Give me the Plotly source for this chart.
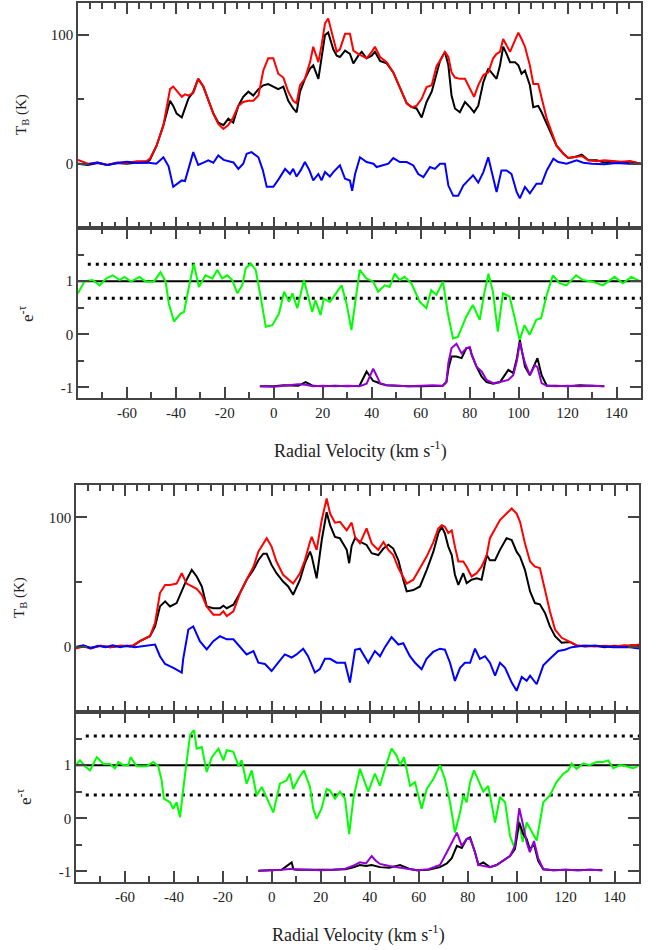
import plotly.graph_objects as go

# ---------------- TOP PANEL ----------------
TOP_V_TB = [-80,-76,-72,-68,-64,-60,-56,-52,-50.6,-47.9,
            -45.1,-42.4,-41.1,-39.7,-37.6,-36.3,-34.9,-32.9,-30.9,-28.8,
            -26.8,-24.7,-22.7,-20.6,-18.6,-16.6,-14.5,-12.5,-10.4,-8.4,
            -6.3,-4.3,-2.3,-0.2,1.8,3.9,5.9,7.9,9.3,10.7,
            12.7,14.8,16.1,18.2,19.5,20.9,22.2,24.3,25.7,27.0,
            29.1,31.1,32.5,34.5,35.9,37.9,40.0,41.3,43.4,46.1,
            48.8,50.8,52.9,54.3,56.3,58.3,60.4,62.4,64.5,66.5,
            67.9,69.9,71.3,72.6,74.0,76.0,78.1,80.1,81.8,83.5,
            85.6,87.6,89.6,91.0,92.4,93.7,95.1,96.5,98.5,99.9,
            101.2,102.6,104.6,106.0,108.0,109.4,111.5,113.5,115.5,118.3,
            120.3,123.0,125.8,128.5,131.9,135,138.7,142,145.5,150]
TOP_TB_BLACK = [0,-1,0.5,-1,0.5,0,1,1,3,14,
                30,49,45,39,36,43,50.5,56,66,60,
                50,39,32,30,35,32,45,52,56,53,
                58,61,62,60,58,60,49,43,40,56,
                66,74,76.5,66,82,100,102,89,84,83,
                88,85.5,78,84,87,82,84,87,80,78,
                71,62,54,47,44,43,36,48,56,69,
                80,87,76.5,53,43,40,48,44,40,45,
                63.5,74,69,66,76.5,91,85.5,79,79,76.5,
                70,72.5,61,44,45,40,31,22,14,7.8,
                4.4,5.2,7,2.6,2.6,1,1.8,0.5,1.8,0]
TOP_TB_RED = [3,0,1,-1,1,0.5,2,2,4,14,
              30,58,60,57,52,54,53,55,66,60,
              50,39,31,27,30,36,45,48,49,49,
              53,72.5,82,82,70,67,56,49,47,61,
              66,79,91,79,92,109,113,97,87,89,
              101,101,88,85.5,84,82,87,91,83,79,
              71,62,54,47,44,45,50.5,59.6,61,76,
              80,87,83,71,67,66,66,58,52,61,
              69,71,82,85.5,87,97,92,87,96,102,
              97,91,76.5,62,62,50.5,35,24.6,14,7.8,
              4.4,5.2,6,2.6,2,2.6,1.8,1.5,2.2,0]

TOP_V_BLUE = [-80,-76,-72,-68,-64,-60,-56,-52,-48,-45.1,
              -43,-41.1,-37.6,-36.3,-32.9,-30.9,-28.5,-26.8,-24.7,-22.7,
              -20.5,-18.6,-16.5,-14.5,-12.5,-11.1,-9.1,-6.3,-4.5,-2.9,
              -0.2,2,4.6,6.6,7.9,9.3,11,12.7,14.5,16.1,
              18.2,19.5,20.9,22.9,24.3,27.0,29.1,31.1,32.0,33.2,
              35.2,37.9,40.7,42.0,44.8,46.8,48.8,51.5,54.3,57.0,
              59.0,61.1,63.8,65.8,67.9,69.9,71.3,73.3,75.3,77.4,
              79.4,81.4,83.5,85.6,87.6,89.6,91.0,93.0,95.1,97.1,
              99.2,100.5,102.6,104.6,107.3,109.4,111.5,114.2,116.2,119.6,
              123.7,126.4,130,135,140,145,150]
TOP_TB_BLUE = [0,-0.5,1,-1,0.5,1.5,0.5,1,0,5,
               -2,-18,-13,-13.5,9,-1,1,2.6,0.8,6.5,
               3,2,1,-4,0,7.8,9,5,-5,-18,
               -18,-12,-4,-8,-4,-10,-5,1.3,-5,-13,
               -8,-13,-6.5,-10,-6.5,-1.3,-11.7,-13,-21,-8,
               5,1.3,0,-2.6,-1.3,0,4.4,1.3,1.3,-1.3,
               -8,-10.4,-2.6,-4,0,0,-17,-25,-25,-17,
               -13,-9,-14.7,-6.5,5,-11.7,-22,-5.2,-5.2,-8,
               -22,-27,-18,-23,-15.6,-15.6,-5.2,3.9,1.3,0,
               2.6,0.8,0,-0.5,0.5,0,0]

TOP_V_G = [-80,-77.3,-74,-71.2,-68.5,-65.8,-63.0,-61.0,-58.3,-54.9,
           -52.2,-49.0,-46.3,-44.2,-42.9,-40.8,-38.1,-36.7,-34.7,-32.7,
           -30.6,-27.9,-25.1,-23.1,-21.1,-19.0,-17.0,-14.9,-12.9,-11.5,
           -9.4,-7.4,-5.4,-3.3,-0.6,2.1,4.2,6.2,7.6,9.6,
           12.3,15.7,17.0,19.1,20.4,22.9,27.7,29.7,31.7,35.1,
           37.8,40.6,42.6,45.3,47.3,49.4,51.4,53.4,56.2,59.6,
           62.3,64.3,66.4,69.1,71.1,73.2,75.2,78.6,81.3,84.1,
           86.1,87.7,89.5,91.5,93.6,96.3,98.3,100.4,102.4,104.5,
           107.2,109.2,111.3,114.0,116.7,119.5,123.5,126.2,130.3,134.4,
           139.2,142.6,146.0,150]
TOP_ETAU = [0.77,1.0,1.02,0.92,1.05,1.11,1.02,1.08,0.99,1.08,
            0.99,0.99,1.17,0.99,0.58,0.24,0.39,0.42,0.89,1.33,
            0.89,1.11,1.05,1.21,1.05,1.11,1.02,0.77,0.92,1.24,
            1.33,1.21,0.71,0.14,0.17,0.39,0.8,0.61,0.77,0.49,
            1.02,0.42,0.64,0.36,0.67,0.61,0.92,0.58,0.08,1.21,
            1.05,0.99,0.8,0.92,0.89,1.14,1.02,1.08,0.96,0.61,
            0.49,0.83,0.74,0.99,0.39,-0.08,-0.05,0.33,0.55,0.27,
            0.8,1.14,0.8,0.05,0.77,0.71,0.33,-0.11,0.17,-0.01,
            0.27,0.3,0.71,1.11,0.96,0.92,1.11,1.02,0.99,0.92,
            1.08,0.96,1.08,0.99]
TOP_SIGMA = [1.32, 0.68]

TOP_V_P = [-5.7,0,4,8,10,13,16,20,25,30,
           35,37.9,40.6,42,43.4,46,50,55,60,65,
           69,70.5,71.3,72.6,74.6,76.7,78.7,80.1,80.8,82.8,
           84.9,86.9,89.6,92.4,95.8,97.8,99.3,100.5,101.5,102.6,
           104.6,106.7,107.7,109.4,111.5,115,120,125,130,135]
TOP_LOW_PURPLE = [-0.98,-0.99,-0.97,-0.95,-0.94,-0.95,-0.98,-0.97,-0.98,-0.97,
                  -0.98,-0.93,-0.65,-0.78,-0.92,-0.96,-0.97,-0.98,-0.97,-0.96,
                  -0.97,-0.9,-0.54,-0.26,-0.18,-0.36,-0.26,-0.24,-0.38,-0.61,
                  -0.7,-0.86,-0.92,-0.9,-0.86,-0.77,-0.5,-0.15,-0.35,-0.54,
                  -0.77,-0.58,-0.62,-0.92,-0.97,-0.98,-0.97,-0.98,-0.97,-0.98]
TOP_LOW_BLACK = [-0.98,-0.98,-0.96,-0.97,-0.97,-0.9,-0.97,-0.98,-0.97,-0.98,
                 -0.97,-0.70,-0.88,-0.9,-0.93,-0.96,-0.97,-0.98,-0.98,-0.97,
                 -0.97,-0.9,-0.65,-0.42,-0.42,-0.45,-0.26,-0.26,-0.38,-0.61,
                 -0.8,-0.9,-0.93,-0.9,-0.67,-0.73,-0.45,-0.11,-0.35,-0.61,
                 -0.77,-0.55,-0.45,-0.77,-0.97,-0.97,-0.98,-0.96,-0.97,-0.98]

# ---------------- BOTTOM PANEL ----------------
BOT_V_TB = [-80,-77,-74,-70,-66,-62,-58,-56.6,-53.9,-49.8,
            -47.7,-45.7,-43.6,-41.6,-38.9,-36.8,-34.8,-32.7,-30.7,-28.6,
            -26.6,-23.9,-21.2,-19.8,-18.4,-15.7,-13.0,-10.3,-7.5,-5.5,
            -3.5,-2.1,-0.1,1.9,4.6,6.7,8.7,11.5,13.5,15.6,
            16.3,18.3,20.4,22.4,23.8,25.8,27.8,30.6,31.6,32.6,
            34.0,36.0,38.7,40.8,43.5,45.6,47.6,49.6,51.7,53.7,
            55.1,57.8,60.5,63.3,66.0,68.0,69.4,70.7,72.1,73.5,
            74.8,76.2,78.2,79.6,81.6,83.7,85.7,87.8,89.1,91.2,
            93.2,95.9,98.0,100.0,101.4,103.4,105.5,107.5,109.5,111.6,
            113.6,115.7,118.4,121.8,124.5,128,132,136,140,144,
            147,150]
BOT_TB_BLACK = [0,1,-0.5,1,0,1,0.5,1,4.6,8.4,
                16,31.4,35.3,31.4,34,44,52,59.6,54.5,46.8,
                31.4,30,30,32,30,32.7,41.7,52,59.6,67,
                72,72,63.4,57,50.6,46.8,40.4,52,64.7,73.6,
                70,53,82.6,104,94,85,84,75,64.7,78,
                84,81.3,78.8,72.4,71,76,79,76,67,52,
                43,44,46.8,59.6,73.6,87.7,92.8,87.7,77.5,71,
                55.8,48,57,49.4,52,53,52,71,67,67,
                75,84,82.6,73.6,69.8,59.6,43,34,33,26.4,
                16,8.4,3.4,4,1.3,0.5,1,0,1,0.5,
                1.5,1]
BOT_TB_RED = [-1,0.5,-1,1,0,1,1,1.5,4.6,8.4,
              18.7,41.7,48,48,49,57,49,46.8,45,40.4,
              31.4,25,25,27.6,24,27.6,41.7,52,62,73.6,
              80,84,77.5,66,55.8,52,49,57,67,81.3,
              85,75,98,114.6,103,96,96.6,90,92.8,96,
              85,80,91.5,80,75,81,75,71,61,54.5,
              49,52,61,70,81,91.5,94,92.8,88,90,
              77.5,66,66,62,54.5,57,62,71,84,91.5,
              98,103,106.9,103,96.6,80,66,62,61,44,
              27.6,13.6,7.2,4,1.3,1,0.5,1,0.5,1.5,
              1,2]

BOT_V_BLUE = [-80,-77,-74,-71,-68,-65,-62,-59,-56,-52,
              -47.7,-45.7,-43.6,-40.2,-36.8,-36.2,-34.1,-32.1,-29.4,-26.6,
              -23.9,-21.2,-18.4,-15.7,-13.0,-10.3,-7.5,-5.5,-2.8,-0.1,
              2.6,5.3,8.1,10.1,12.8,14.8,17.6,19.6,21.7,23.8,
              26.5,29.9,31.9,34.0,36.0,39.4,42.1,44.2,46.2,48.9,
              51.7,53.7,56.4,58.5,61.2,63.2,65.9,68.7,70.7,72.8,
              74.8,76.9,78.9,81.0,83.0,85.0,87.1,89.1,91.2,93.2,
              95.3,98.0,100.0,102.1,104.1,105.5,108.2,110.9,113.6,117.0,
              119.7,122.5,127.2,132.6,139.5,146.3,150]
BOT_TB_BLUE = [0,1.5,-1,1,0,1.5,0,1,0,1,
               2,-7,-13,-16,-19.6,-9,13.6,16,4.6,-1.8,
               4.6,8.4,6,6,0,-5.6,-3,-12,-13,-18.4,
               -12,-5.6,-8,-5.6,-1.2,-7,-19.6,-17,-9,-9,
               -12,-12,-27.3,-2,-1.2,-12,-3,-7,0,7.7,
               2,3,-7,-12,-17,-9,-3.7,-1.2,-2,-12,
               -26,-16,-12,-12,-1.2,-9,-7,-12,-22,-12,
               -16,-27.3,-33.7,-23,-26,-22,-28.6,-14,-9,-3,
               -2,0,1,1,0,0,-1]

BOT_V_G = [-80,-78.4,-76.3,-74.3,-71.5,-68.8,-66.1,-64.1,-62.7,-60.7,
           -58.6,-57.7,-55.2,-51.1,-48.4,-46.4,-45.0,-44.1,-41.6,-40.3,
           -38.9,-37.5,-35.5,-33.4,-31.8,-30.7,-28.6,-26.6,-24.5,-21.8,
           -19.8,-18.4,-15.7,-13.6,-12.3,-10.3,-8.2,-6.2,-4.1,-1.4,
           0.6,3.3,6.0,7.4,8.7,10.8,13.1,15.6,16.9,18.3,
           20.3,22.4,23.8,25.8,27.8,29.9,31.6,33.3,36.0,39.4,
           42.1,44.2,46.2,48.9,51.0,52.4,54.0,56.5,58.5,61.2,
           63.3,66.0,68.7,70.7,72.8,74.8,76.9,78.2,79.6,81.0,
           82.6,84.4,86.4,88.4,91.2,93.2,95.3,97.3,99.3,100.7,
           102.5,104.1,106.2,108.2,110.9,113.6,116.3,119.1,121.1,122.5,
           124.5,127.2,129.9,132.6,135.4,137.4,139.5,142.2,144.9,147.6,
           149.7]
BOT_ETAU = [1.0,1.09,0.98,0.9,1.15,1.02,1.02,0.94,1.06,1.0,
            1.0,1.15,0.98,0.98,1.06,0.98,0.71,0.37,0.3,0.18,
            0.3,0.02,0.81,1.57,1.66,1.31,1.34,0.87,1.15,1.31,
            1.09,1.28,1.25,0.98,1.09,0.65,0.9,0.43,0.59,0.3,
            0.11,0.65,0.71,0.84,0.55,0.74,0.9,0.59,0.18,-0.01,
            0.18,0.55,0.52,0.37,0.5,0.37,-0.3,0.37,0.93,0.5,
            0.84,0.61,0.93,1.31,1.18,1.0,1.15,0.61,0.68,0.18,
            0.55,0.74,1.0,0.74,0.3,-0.27,0.11,0.43,0.3,0.68,
            0.9,0.71,0.5,0.61,-0.08,0.4,0.3,-0.33,-0.58,-0.01,
            -0.45,-0.08,-0.27,-0.42,0.3,0.43,0.68,0.84,0.9,1.03,
            0.93,1.03,1.0,1.06,1.06,1.09,0.94,1.0,0.98,0.94,
            0.98]
BOT_SIGMA = [1.55, 0.44]

BOT_V_P = [-5.5,0,4,8.1,8.8,10,15,20,25,30,
           33,36.0,38.5,40.8,42.5,44.2,48,52.4,56,59.2,
           64,68.7,71.5,73.5,75.6,77.6,79.6,81.0,83.0,84.4,
           86.4,89.1,91.8,94.6,97.3,99.3,101.1,102.7,104.1,105.4,
           107.1,108.8,110.9,115,120,125,130,135]
BOT_LOW_PURPLE = [-0.99,-0.98,-0.97,-0.95,-0.96,-0.96,-0.97,-0.98,-0.97,-0.95,
                  -0.9,-0.83,-0.85,-0.71,-0.8,-0.86,-0.9,-0.93,-0.95,-0.98,
                  -0.96,-0.88,-0.64,-0.45,-0.27,-0.52,-0.39,-0.38,-0.64,-0.88,
                  -0.9,-0.92,-0.88,-0.79,-0.71,-0.52,0.19,-0.14,-0.45,-0.64,
                  -0.43,-0.75,-0.96,-0.98,-0.97,-0.98,-0.97,-0.98]
BOT_LOW_BLACK = [-0.99,-0.98,-0.97,-0.83,-0.96,-0.97,-0.97,-0.98,-0.97,-0.96,
                 -0.93,-0.88,-0.9,-0.88,-0.9,-0.92,-0.93,-0.88,-0.95,-0.98,
                 -0.97,-0.92,-0.85,-0.75,-0.52,-0.56,-0.39,-0.36,-0.64,-0.88,
                 -0.83,-0.92,-0.88,-0.79,-0.71,-0.58,-0.08,-0.3,-0.39,-0.58,
                 -0.49,-0.8,-0.96,-0.98,-0.97,-0.98,-0.97,-0.98]

X_TICKS = [-60, -40, -20, 0, 20, 40, 60, 80, 100, 120, 140]
X_RANGE = [-80, 150]
TB_RANGE = [-50, 125]
ET_RANGE = [-1.2, 2]
DOT_START = -76

# ---------------- FIGURE ----------------
W, H = 660, 950
FONT = "Liberation Serif, Times New Roman, DejaVu Serif, serif"
AX_COL = "#444444"

fig = go.Figure()


def line(x, y, xa, ya, color, width=2.0, dash=None):
    fig.add_trace(go.Scatter(x=x, y=y, xaxis=xa, yaxis=ya, mode="lines",
                             line=dict(color=color, width=width, dash=dash),
                             showlegend=False, hoverinfo="skip"))


def panel(v_tb, black, red, v_blue, blue, v_g, etau, sigma, v_p, lowblack, lowpurple, xu, yu, xl, yl):
    line(v_tb, black, xu, yu, "#000000")
    line(v_tb, red, xu, yu, "#ff0000")
    line(v_blue, blue, xu, yu, "#0000ff")
    line(X_RANGE, [1, 1], xl, yl, "#000000", 2)
    for s in sigma:
        line([DOT_START, X_RANGE[1]], [s, s], xl, yl, "#000000", 3, "3px,5px")
    line(v_g, etau, xl, yl, "#00ff00")
    line(v_p, lowblack, xl, yl, "#000000")
    line(v_p, lowpurple, xl, yl, "#9400d3")


panel(TOP_V_TB, TOP_TB_BLACK, TOP_TB_RED, TOP_V_BLUE, TOP_TB_BLUE, TOP_V_G, TOP_ETAU,
      TOP_SIGMA, TOP_V_P, TOP_LOW_BLACK, TOP_LOW_PURPLE, "x", "y", "x2", "y2")
panel(BOT_V_TB, BOT_TB_BLACK, BOT_TB_RED, BOT_V_BLUE, BOT_TB_BLUE, BOT_V_G, BOT_ETAU,
      BOT_SIGMA, BOT_V_P, BOT_LOW_BLACK, BOT_LOW_PURPLE, "x3", "y3", "x4", "y4")


def px_dom_y(top, bottom):
    return [1 - bottom / H, 1 - top / H]


def xax(dom, anchor, labels, minor_dtick):
    return dict(domain=dom, anchor=anchor, range=X_RANGE, showgrid=False, zeroline=False,
                showline=True, linecolor=AX_COL, linewidth=1.5, mirror="ticks",
                ticks="inside", ticklen=11, tickwidth=1.5, tickcolor=AX_COL,
                tickmode="array", tickvals=X_TICKS, ticktext=[str(t) for t in X_TICKS],
                showticklabels=labels,
                tickfont=dict(family=FONT, size=15, color="#222222"),
                minor=dict(ticks="inside", ticklen=6, tickwidth=1.5, tickcolor=AX_COL,
                           dtick=minor_dtick, tick0=0, showgrid=False))


def yax(dom, anchor, rng, vals, minor_dtick):
    return dict(domain=dom, anchor=anchor, range=rng, showgrid=False, zeroline=False,
                showline=True, linecolor=AX_COL, linewidth=1.5, mirror="ticks",
                ticks="inside", ticklen=11, tickwidth=1.5, tickcolor=AX_COL,
                tickmode="array", tickvals=vals, ticktext=[str(v) for v in vals],
                tickfont=dict(family=FONT, size=15, color="#222222"),
                minor=dict(ticks="inside", ticklen=6, tickwidth=1.5, tickcolor=AX_COL,
                           dtick=minor_dtick, tick0=0, showgrid=False))


top_x = [78 / W, 641 / W]
bot_x = [76 / W, 639 / W]

fig.update_layout(
    width=W, height=H, margin=dict(l=0, r=0, t=0, b=0),
    paper_bgcolor="white", plot_bgcolor="white", showlegend=False,
    font=dict(family=FONT),
    xaxis=xax(top_x, "y", False, 5),
    yaxis=yax(px_dom_y(3, 228), "x", TB_RANGE, [0, 100], 50),
    xaxis2=xax(top_x, "y2", True, 10),
    yaxis2=yax(px_dom_y(228, 398), "x2", ET_RANGE, [-1, 0, 1], 0.5),
    xaxis3=xax(bot_x, "y3", False, 5),
    yaxis3=yax(px_dom_y(485, 712), "x3", TB_RANGE, [0, 100], 50),
    xaxis4=xax(bot_x, "y4", True, 10),
    yaxis4=yax(px_dom_y(712, 882), "x4", ET_RANGE, [-1, 0, 1], 0.5),
)


def ann(text, xpx, ypx, size=15, angle=0):
    fig.add_annotation(text=text, x=xpx / W, y=1 - ypx / H, xref="paper", yref="paper",
                       showarrow=False, textangle=angle, xanchor="center", yanchor="middle",
                       font=dict(family=FONT, size=size, color="#222222"))


ann("T<sub>B</sub> (K)", 22, 115, 15, -90)
ann("e<sup>-τ</sup>", 26, 313, 17, -90)
ann("Radial Velocity (km s<sup>-1</sup>)", 360, 450, 18)
ann("T<sub>B</sub> (K)", 20, 598, 15, -90)
ann("e<sup>-τ</sup>", 24, 797, 17, -90)
ann("Radial Velocity (km s<sup>-1</sup>)", 358, 934, 18)

fig.write_html("out.html", config={"displayModeBar": False},
               post_script="document.body.style.margin='0px';document.body.style.overflow='hidden';")
